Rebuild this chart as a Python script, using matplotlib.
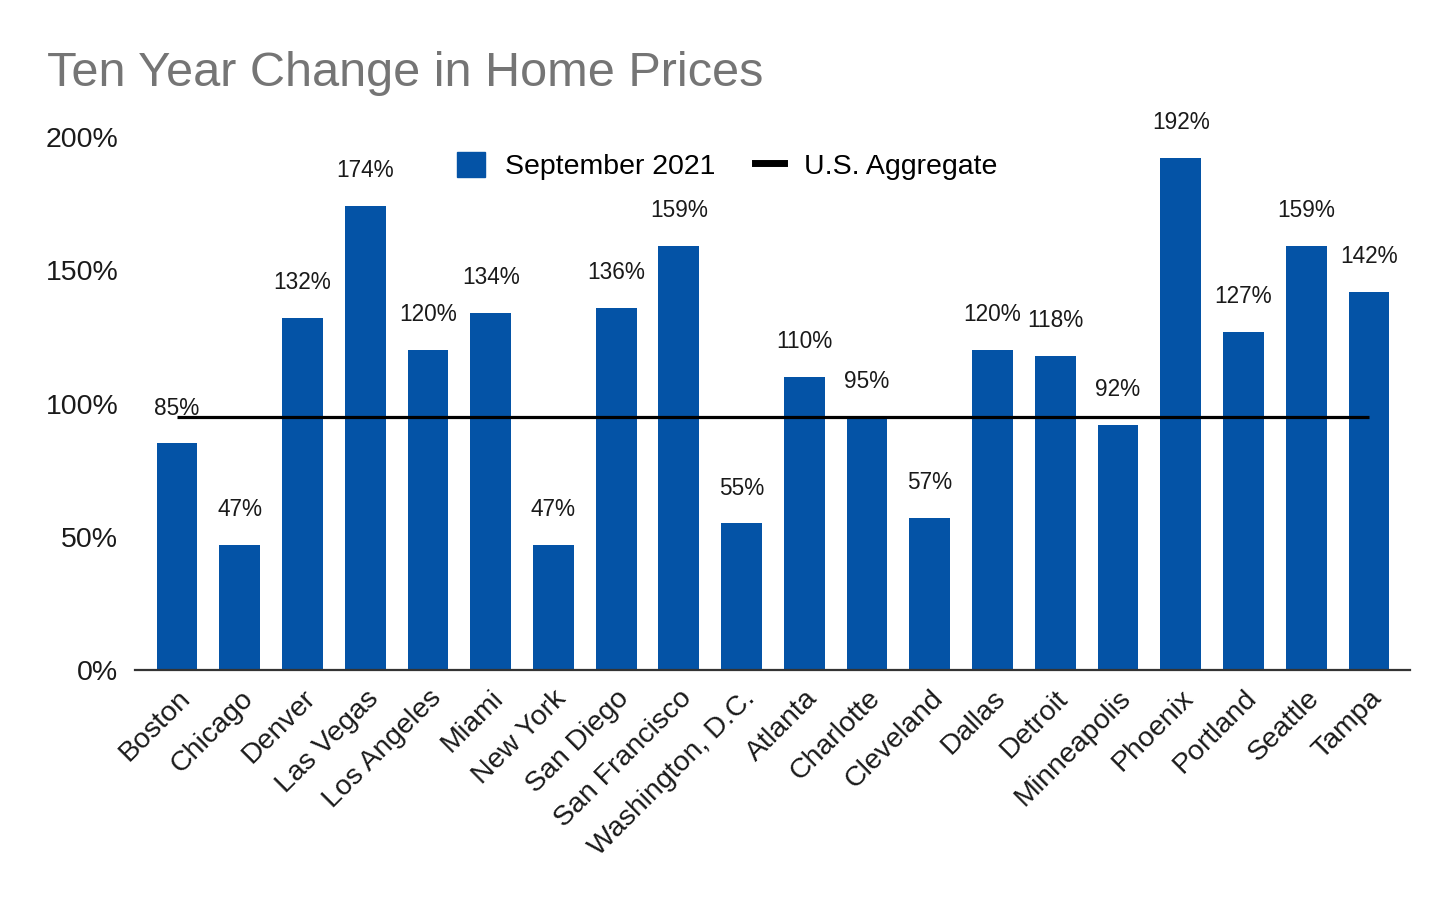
import matplotlib
matplotlib.use("Agg")
import matplotlib.pyplot as plt
from matplotlib.lines import Line2D
from matplotlib.patches import Patch

plt.rcParams['font.family'] = ['Liberation Sans', 'DejaVu Sans']

cities = ["Boston", "Chicago", "Denver", "Las Vegas", "Los Angeles", "Miami",
          "New York", "San Diego", "San Francisco", "Washington, D.C.", "Atlanta",
          "Charlotte", "Cleveland", "Dallas", "Detroit", "Minneapolis", "Phoenix",
          "Portland", "Seattle", "Tampa"]
sept_2021 = [85, 47, 132, 174, 120, 134, 47, 136, 159, 55, 110, 95, 57, 120, 118,
             92, 192, 127, 159, 142]
us_aggregate = [95] * len(cities)
yticks = [0, 50, 100, 150, 200]

bar_color = "#0453A6"

fig = plt.figure(figsize=(14.56, 9.0), dpi=100)
ax = fig.add_axes([135/1456, 1-670/900, (1410-135)/1456, (670-137)/900])

x = list(range(len(cities)))
bars = ax.bar(x, sept_2021, width=0.65, color=bar_color, zorder=2)
ax.plot(x, us_aggregate, color="black", lw=2.3, zorder=3, solid_capstyle='butt')

for xi, v in zip(x, sept_2021):
    ax.annotate(f"{v}%", (xi, v), xytext=(0, 25.5), textcoords="offset points",
                ha="center", va="center", fontsize=16.3, color="#1a1a1a",
                clip_on=False, annotation_clip=False)

ax.set_xlim(-0.67, len(cities) - 1 + 0.655)
ax.set_ylim(0, 200)
ax.set_yticks(yticks)
ax.set_yticklabels([f"{t}%" for t in yticks], fontsize=20.5, color="#1a1a1a")
ax.set_xticks(x)
ax.set_xticklabels(cities, rotation=45, ha="right", va="top",
                   rotation_mode="anchor", fontsize=20.5, color="#1a1a1a")
ax.tick_params(axis="both", length=0)
ax.tick_params(axis="y", pad=12)
ax.tick_params(axis="x", pad=11)

for s in ["top", "right", "left"]:
    ax.spines[s].set_visible(False)
ax.spines["bottom"].set_color("#333333")
ax.spines["bottom"].set_linewidth(1.6)
ax.spines["bottom"].set_zorder(4)

handles = [Patch(facecolor=bar_color, edgecolor=bar_color, label="September 2021"),
           Line2D([0], [0], color="black", lw=5, label="U.S. Aggregate")]
leg = fig.legend(handles=handles, loc="center", bbox_to_anchor=(727/1456, 1-166/900),
                 ncol=2, frameon=False, fontsize=20.5, handlelength=1.0,
                 handleheight=1.0, handletextpad=0.7, columnspacing=1.4)

fig.text(47/1456, 1-86/900, "Ten Year Change in Home Prices", fontsize=35,
         color="#757575", ha="left", va="baseline")

fig.savefig("out.png", dpi=100)
